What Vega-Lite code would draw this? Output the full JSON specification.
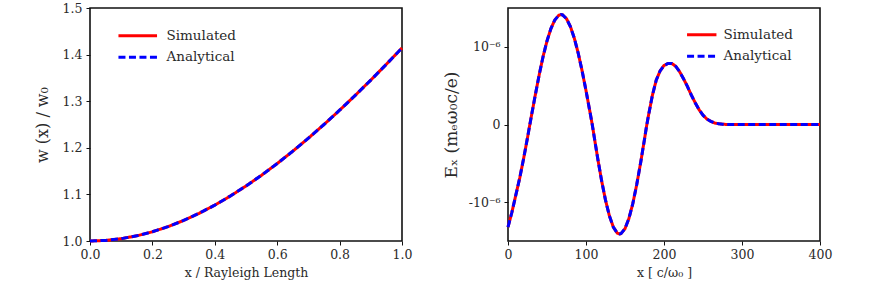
{
  "$schema": "https://vega.github.io/schema/vega-lite/v6.json",
  "autosize": {"type": "none"},
  "padding": {"left": 90, "top": 8, "right": 783, "bottom": 280},
  "bounds": "flush",
  "spacing": 106,
  "config": {
    "font": "DejaVu Serif",
    "view": {"stroke": "#111", "strokeWidth": 1.6},
    "axis": {
      "domain": false, "grid": false, "ticks": true, "labelFlush": false,
      "tickColor": "#111", "tickSize": 4, "tickWidth": 1,
      "labelFont": "DejaVu Serif", "labelFontSize": 12.5, "labelColor": "#2a2a2a",
      "titleFont": "DejaVu Serif", "titleFontWeight": "normal", "titleColor": "#2a2a2a"
    },
    "legend": {
      "labelFont": "DejaVu Serif", "labelFontSize": 13.5, "labelColor": "#2a2a2a",
      "symbolStrokeWidth": 3, "rowPadding": 6.5, "title": null
    }
  },
  "datasets": {
    "waist": [
      {"x": 0.0, "Simulated": 1.0, "Analytical": 1.0},
      {"x": 0.05, "Simulated": 1.00125, "Analytical": 1.00125},
      {"x": 0.1, "Simulated": 1.00499, "Analytical": 1.00499},
      {"x": 0.15, "Simulated": 1.01119, "Analytical": 1.01119},
      {"x": 0.2, "Simulated": 1.0198, "Analytical": 1.0198},
      {"x": 0.25, "Simulated": 1.03078, "Analytical": 1.03078},
      {"x": 0.3, "Simulated": 1.04403, "Analytical": 1.04403},
      {"x": 0.35, "Simulated": 1.05948, "Analytical": 1.05948},
      {"x": 0.4, "Simulated": 1.07703, "Analytical": 1.07703},
      {"x": 0.45, "Simulated": 1.09659, "Analytical": 1.09659},
      {"x": 0.5, "Simulated": 1.11803, "Analytical": 1.11803},
      {"x": 0.55, "Simulated": 1.14127, "Analytical": 1.14127},
      {"x": 0.6, "Simulated": 1.16619, "Analytical": 1.16619},
      {"x": 0.65, "Simulated": 1.19269, "Analytical": 1.19269},
      {"x": 0.7, "Simulated": 1.22066, "Analytical": 1.22066},
      {"x": 0.75, "Simulated": 1.25, "Analytical": 1.25},
      {"x": 0.8, "Simulated": 1.28062, "Analytical": 1.28062},
      {"x": 0.85, "Simulated": 1.31244, "Analytical": 1.31244},
      {"x": 0.9, "Simulated": 1.34536, "Analytical": 1.34536},
      {"x": 0.95, "Simulated": 1.37931, "Analytical": 1.37931},
      {"x": 1.0, "Simulated": 1.41421, "Analytical": 1.41421}
    ],
    "field": [
      {"x": 0, "Simulated": -1.32e-6, "Analytical": -1.32e-6},
      {"x": 5, "Simulated": -1.13e-6, "Analytical": -1.13e-6},
      {"x": 10, "Simulated": -0.91e-6, "Analytical": -0.91e-6},
      {"x": 15, "Simulated": -0.69e-6, "Analytical": -0.69e-6},
      {"x": 20, "Simulated": -0.44e-6, "Analytical": -0.44e-6},
      {"x": 25, "Simulated": -0.17e-6, "Analytical": -0.17e-6},
      {"x": 30, "Simulated": 0.11e-6, "Analytical": 0.11e-6},
      {"x": 35, "Simulated": 0.38e-6, "Analytical": 0.38e-6},
      {"x": 40, "Simulated": 0.64e-6, "Analytical": 0.64e-6},
      {"x": 45, "Simulated": 0.876e-6, "Analytical": 0.876e-6},
      {"x": 50, "Simulated": 1.076e-6, "Analytical": 1.076e-6},
      {"x": 55, "Simulated": 1.234e-6, "Analytical": 1.234e-6},
      {"x": 60, "Simulated": 1.346e-6, "Analytical": 1.346e-6},
      {"x": 65, "Simulated": 1.405e-6, "Analytical": 1.405e-6},
      {"x": 68, "Simulated": 1.415e-6, "Analytical": 1.415e-6},
      {"x": 70, "Simulated": 1.411e-6, "Analytical": 1.411e-6},
      {"x": 75, "Simulated": 1.362e-6, "Analytical": 1.362e-6},
      {"x": 80, "Simulated": 1.261e-6, "Analytical": 1.261e-6},
      {"x": 85, "Simulated": 1.111e-6, "Analytical": 1.111e-6},
      {"x": 90, "Simulated": 0.919e-6, "Analytical": 0.919e-6},
      {"x": 95, "Simulated": 0.691e-6, "Analytical": 0.691e-6},
      {"x": 100, "Simulated": 0.437e-6, "Analytical": 0.437e-6},
      {"x": 105, "Simulated": 0.166e-6, "Analytical": 0.166e-6},
      {"x": 108, "Simulated": 0.0, "Analytical": 0.0},
      {"x": 110, "Simulated": -0.126e-6, "Analytical": -0.126e-6},
      {"x": 115, "Simulated": -0.436e-6, "Analytical": -0.436e-6},
      {"x": 120, "Simulated": -0.723e-6, "Analytical": -0.723e-6},
      {"x": 125, "Simulated": -0.974e-6, "Analytical": -0.974e-6},
      {"x": 130, "Simulated": -1.176e-6, "Analytical": -1.176e-6},
      {"x": 135, "Simulated": -1.32e-6, "Analytical": -1.32e-6},
      {"x": 140, "Simulated": -1.398e-6, "Analytical": -1.398e-6},
      {"x": 143, "Simulated": -1.41e-6, "Analytical": -1.41e-6},
      {"x": 145, "Simulated": -1.404e-6, "Analytical": -1.404e-6},
      {"x": 150, "Simulated": -1.341e-6, "Analytical": -1.341e-6},
      {"x": 155, "Simulated": -1.211e-6, "Analytical": -1.211e-6},
      {"x": 160, "Simulated": -1.019e-6, "Analytical": -1.019e-6},
      {"x": 165, "Simulated": -0.775e-6, "Analytical": -0.775e-6},
      {"x": 170, "Simulated": -0.495e-6, "Analytical": -0.495e-6},
      {"x": 175, "Simulated": -0.189e-6, "Analytical": -0.189e-6},
      {"x": 178, "Simulated": 0.0, "Analytical": 0.0},
      {"x": 180, "Simulated": 0.11e-6, "Analytical": 0.11e-6},
      {"x": 185, "Simulated": 0.37e-6, "Analytical": 0.37e-6},
      {"x": 190, "Simulated": 0.57e-6, "Analytical": 0.57e-6},
      {"x": 195, "Simulated": 0.69e-6, "Analytical": 0.69e-6},
      {"x": 200, "Simulated": 0.76e-6, "Analytical": 0.76e-6},
      {"x": 205, "Simulated": 0.785e-6, "Analytical": 0.785e-6},
      {"x": 210, "Simulated": 0.785e-6, "Analytical": 0.785e-6},
      {"x": 215, "Simulated": 0.75e-6, "Analytical": 0.75e-6},
      {"x": 220, "Simulated": 0.68e-6, "Analytical": 0.68e-6},
      {"x": 225, "Simulated": 0.59e-6, "Analytical": 0.59e-6},
      {"x": 230, "Simulated": 0.49e-6, "Analytical": 0.49e-6},
      {"x": 235, "Simulated": 0.38e-6, "Analytical": 0.38e-6},
      {"x": 240, "Simulated": 0.28e-6, "Analytical": 0.28e-6},
      {"x": 245, "Simulated": 0.19e-6, "Analytical": 0.19e-6},
      {"x": 250, "Simulated": 0.12e-6, "Analytical": 0.12e-6},
      {"x": 255, "Simulated": 0.07e-6, "Analytical": 0.07e-6},
      {"x": 260, "Simulated": 0.04e-6, "Analytical": 0.04e-6},
      {"x": 265, "Simulated": 0.02e-6, "Analytical": 0.02e-6},
      {"x": 270, "Simulated": 0.01e-6, "Analytical": 0.01e-6},
      {"x": 275, "Simulated": 0.004e-6, "Analytical": 0.004e-6},
      {"x": 280, "Simulated": 0.001e-6, "Analytical": 0.001e-6},
      {"x": 290, "Simulated": 0.0, "Analytical": 0.0},
      {"x": 300, "Simulated": 0.0, "Analytical": 0.0},
      {"x": 320, "Simulated": 0.0, "Analytical": 0.0},
      {"x": 340, "Simulated": 0.0, "Analytical": 0.0},
      {"x": 360, "Simulated": 0.0, "Analytical": 0.0},
      {"x": 380, "Simulated": 0.0, "Analytical": 0.0},
      {"x": 400, "Simulated": 0.0, "Analytical": 0.0}
    ]
  },
  "resolve": {"scale": {"color": "independent", "strokeDash": "independent"}, "legend": {"color": "independent", "strokeDash": "independent"}},
  "hconcat": [
    {
      "width": 312, "height": 233,
      "data": {"name": "waist"},
      "transform": [{"fold": ["Simulated", "Analytical"], "as": ["series", "y"]}],
      "encoding": {
        "x": {"field": "x", "type": "quantitative",
              "scale": {"domain": [0, 1], "nice": false},
              "axis": {"values": [0, 0.2, 0.4, 0.6, 0.8, 1.0], "format": ".1f", "labelPadding": 3,
                       "title": "x / Rayleigh Length", "titleFontSize": 12.5, "titlePadding": 6}},
        "y": {"field": "y", "type": "quantitative",
              "scale": {"domain": [1.0, 1.5], "nice": false, "zero": false},
              "axis": {"values": [1.0, 1.1, 1.2, 1.3, 1.4, 1.5], "format": ".1f", "labelPadding": 4,
                       "title": "w (x)  /  w₀", "titleFontSize": 16, "titlePadding": 12}},
        "color": {"field": "series", "type": "nominal",
                  "scale": {"domain": ["Simulated", "Analytical"], "range": ["#ff0000", "#0000ff"]},
                  "legend": {"orient": "none", "legendX": 41, "legendY": 21, "symbolType": "M-4,0H4", "symbolSize": 93, "labelOffset": 22}},
        "strokeDash": {"field": "series", "type": "nominal",
                  "scale": {"domain": ["Simulated", "Analytical"], "range": [[1, 0], [7, 3.5]]},
                  "legend": {"orient": "none", "legendX": 41, "legendY": 21, "symbolType": "M-4,0H4", "symbolSize": 93, "labelOffset": 22}}
      },
      "layer": [
        {"transform": [{"filter": "datum.series === 'Simulated'"}], "mark": {"type": "line", "strokeWidth": 3}},
        {"transform": [{"filter": "datum.series === 'Analytical'"}], "mark": {"type": "line", "strokeWidth": 3}}
      ]
    },
    {
      "width": 312, "height": 233,
      "data": {"name": "field"},
      "transform": [{"fold": ["Simulated", "Analytical"], "as": ["series", "y"]}],
      "encoding": {
        "x": {"field": "x", "type": "quantitative",
              "scale": {"domain": [0, 400], "nice": false},
              "axis": {"values": [0, 100, 200, 300, 400], "labelPadding": 3,
                       "title": "x [ c/ω₀ ]", "titleFontSize": 12.5, "titlePadding": 6}},
        "y": {"field": "y", "type": "quantitative",
              "scale": {"domain": [-1.5e-6, 1.5e-6], "nice": false},
              "axis": {"values": [-1e-6, 0, 1e-6], "labelPadding": 4,
                       "labelExpr": "datum.value > 0 ? '10⁻⁶' : (datum.value < 0 ? '-10⁻⁶' : '0')",
                       "title": "Eₓ (mₑω₀c/e)", "titleFontSize": 17, "titlePadding": 8}},
        "color": {"field": "series", "type": "nominal",
                  "scale": {"domain": ["Simulated", "Analytical"], "range": ["#ff0000", "#0000ff"]},
                  "legend": {"orient": "none", "legendX": 187, "legendY": 20, "symbolType": "M-4,0H4", "symbolSize": 54, "labelOffset": 15}},
        "strokeDash": {"field": "series", "type": "nominal",
                  "scale": {"domain": ["Simulated", "Analytical"], "range": [[1, 0], [7, 3.5]]},
                  "legend": {"orient": "none", "legendX": 187, "legendY": 20, "symbolType": "M-4,0H4", "symbolSize": 54, "labelOffset": 15}}
      },
      "layer": [
        {"transform": [{"filter": "datum.series === 'Simulated'"}], "mark": {"type": "line", "strokeWidth": 3}},
        {"transform": [{"filter": "datum.series === 'Analytical'"}], "mark": {"type": "line", "strokeWidth": 3}}
      ]
    }
  ]
}
